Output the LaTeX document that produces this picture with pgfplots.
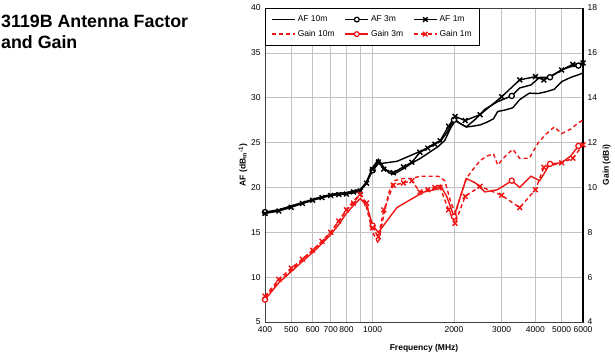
\documentclass[border=0pt]{standalone}
\usepackage{pgfplots}
\pgfplotsset{compat=1.18}
\usepackage{fontspec}
\setmainfont{Liberation Sans}
\definecolor{cred}{RGB}{240,20,20}
\definecolor{cgrid}{RGB}{195,195,195}

\begin{document}
\begin{tikzpicture}[x=1pt,y=1pt]
\path[use as bounding box] (0,0) rectangle (615,-354);
\node[anchor=base west,inner sep=0,font=\fontsize{17.8}{21}\selectfont\bfseries] at (1,-27) {3119B Antenna Factor};
\node[anchor=base west,inner sep=0,font=\fontsize{17.8}{21}\selectfont\bfseries] at (1,-48) {and Gain};

\begin{axis}[
  at={(265pt,-322pt)}, anchor=south west,
  scale only axis, width=318pt, height=314pt,
  xmode=log, xmin=400, xmax=6000, ymin=5, ymax=40,
  xtick={400,500,600,700,800,1000,2000,3000,4000,5000,6000},
  xticklabels={400,500,600,700,800,1000,2000,3000,4000,5000,6000},
  minor xtick={900},
  ytick={5,10,...,40},
  grid=both,
  major grid style={cgrid, line width=0.7pt},
  minor grid style={cgrid, line width=0.7pt},
  tick style={draw=none},
  axis line style={black!75, line width=0.7pt},
  ticklabel style={font=\fontsize{8.5}{10}\selectfont},
  /pgf/number format/assume math mode=true,
  xticklabel style={yshift=-1pt},
  yticklabel style={xshift=-1pt},
  xlabel={\bfseries Frequency (MHz)},
  xlabel style={at={(axis description cs:0.5,-0.083)}, anchor=center, font=\fontsize{8.5}{10}\selectfont},
  ylabel={\bfseries AF (dB\textsubscript{m}\textsuperscript{-1})},
  ylabel style={at={(axis description cs:-0.069,0.5)}, anchor=center, font=\fontsize{8.5}{10}\selectfont},
  clip=false,
]
% AF 10m
\addplot[black, line width=1.4pt] table {
400 17.15
450 17.47
500 17.89
550 18.22
600 18.57
650 18.87
700 19.11
750 19.21
800 19.27
850 19.40
900 19.60
950 20.66
1000 22.21
1050 23.13
1100 22.24
1150 21.62
1200 21.49
1300 22.09
1400 22.73
1500 23.23
1600 23.79
1750 24.57
1850 25.25
1950 26.71
2030 27.51
2100 27.15
2220 26.74
2350 26.83
2500 26.97
2650 27.28
2800 27.65
2900 28.46
3100 28.64
3300 28.88
3500 29.79
3800 30.51
4100 30.47
4400 30.68
4700 30.95
5000 31.79
5400 32.26
5800 32.58
6000 32.77
};
% AF 3m
\addplot[black, line width=1.4pt] table {
400 17.25
450 17.52
500 17.94
550 18.32
600 18.67
650 18.97
700 19.21
750 19.36
800 19.42
850 19.60
900 19.80
950 20.56
1000 21.91
1050 22.63
1230 22.91
1400 23.63
1550 24.22
1700 24.92
1780 25.12
1880 26.09
2000 27.53
2100 27.15
2220 26.74
2400 27.61
2600 28.71
2900 29.56
3270 30.20
3500 31.09
3850 31.42
4150 32.27
4530 32.28
5000 33.09
5400 33.46
5770 33.58
6000 33.87
};
\addplot[black, only marks, mark=*, mark size=2.6pt, mark options={line width=1.3pt, fill=white}] table {
400 17.25
1000 21.91
2000 27.53
3270 30.20
4530 32.28
5770 33.58
};
% AF 1m
\addplot[black, line width=1.4pt, mark=x, mark size=3.4pt] table {
400 17.10
450 17.37
500 17.79
550 18.22
600 18.57
650 18.87
700 19.11
750 19.21
800 19.27
850 19.50
900 19.60
950 20.46
1000 22.01
1050 22.83
1100 22.04
1193 21.64
1300 22.29
1397 22.81
1496 23.91
1600 24.39
1700 24.82
1777 25.20
1910 26.83
2018 27.91
2200 27.46
2496 28.11
3000 30.10
3500 31.99
4000 32.35
4300 31.98
5000 33.09
5500 33.72
6000 33.87
};
\end{axis}

\begin{axis}[
  at={(265pt,-322pt)}, anchor=south west,
  scale only axis, width=318pt, height=314pt,
  xmode=log, xmin=400, xmax=6000, ymin=4, ymax=18,
  axis x line=none,
  axis y line*=right,
  ytick={4,6,...,18},
  tick style={draw=none},
  axis line style={black, line width=1.6pt, -},
  ticklabel style={font=\fontsize{8.5}{10}\selectfont},
  /pgf/number format/assume math mode=true,
  yticklabel style={xshift=1pt},
  ylabel={\bfseries Gain (dBi)},
  ylabel style={at={(axis description cs:1.0745,0.5)}, anchor=center, font=\fontsize{8.5}{10}\selectfont},
  clip=false,
  legend columns=3,
  legend cell align=left,
  legend image code/.code={\draw[mark repeat=2,mark phase=2,#1] plot coordinates {(0pt,0pt) (11.5pt,0pt) (23pt,0pt)};},
  legend style={at={(axis description cs:0,1)}, anchor=north west, draw=black, line width=0.7pt, fill=white,
    font=\fontsize{8.5}{10}\selectfont, inner xsep=6pt, inner ysep=5.5pt, row sep=3pt,
    /tikz/every even column/.append style={column sep=8pt}},
]
\addlegendimage{black, line width=1.4pt}
\addlegendentry{AF 10m}
\addlegendimage{black, line width=1.4pt, mark=*, mark size=2.4pt, mark options={line width=1.2pt, fill=white}}
\addlegendentry{AF 3m}
\addlegendimage{black, line width=1.4pt, mark=x, mark size=3.2pt}
\addlegendentry{AF 1m}
\addlegendimage{cred, line width=1.4pt, dash pattern=on 4pt off 3pt}
\addlegendentry{Gain 10m}
\addlegendimage{cred, line width=1.4pt, mark=*, mark size=2.4pt, mark options={line width=1.2pt, fill=white}}
\addlegendentry{Gain 3m}
\addlegendimage{cred, line width=1.4pt, dash pattern=on 4pt off 3pt, mark=x, mark size=3.2pt, mark options={solid}}
\addlegendentry{Gain 1m}
% Gain 10m
\addplot[cred, line width=1.4pt, dash pattern=on 4pt off 3pt, forget plot] table {
400 5.10
450 5.80
500 6.30
550 6.80
600 7.20
650 7.60
700 8.00
750 8.50
800 9.00
850 9.40
900 9.70
950 9.10
1000 8.00
1050 7.50
1100 8.80
1150 9.80
1200 10.30
1300 10.40
1400 10.40
1500 10.50
1600 10.50
1750 10.50
1850 10.30
1950 9.30
2030 8.85
2100 9.50
2220 10.40
2350 10.80
2500 11.20
2650 11.40
2800 11.50
2900 11.00
3100 11.40
3300 11.70
3500 11.30
3800 11.30
4100 12.00
4400 12.40
4700 12.70
5000 12.40
5400 12.60
5800 12.90
6000 13.00
};
% Gain 3m
\addplot[cred, line width=1.4pt, forget plot] table {
400 5.00
450 5.75
500 6.25
550 6.70
600 7.10
650 7.50
700 7.90
750 8.35
800 8.85
850 9.20
900 9.50
950 9.20
1000 8.30
1050 8.00
1230 9.10
1400 9.50
1550 9.80
1700 9.90
1780 10.10
1880 9.60
2000 8.70
2100 9.50
2220 10.40
2400 10.20
2600 9.80
2900 9.90
3270 10.30
3500 10.00
3850 10.50
4150 10.30
4530 11.05
5000 11.10
5400 11.40
5770 11.85
6000 11.90
};
\addplot[cred, only marks, mark=*, mark size=2.6pt, mark options={line width=1.3pt, fill=white}, forget plot] table {
400 5.00
1000 8.30
2000 8.70
3270 10.30
4530 11.05
5770 11.85
};
% Gain 1m
\addplot[cred, line width=1.4pt, dash pattern=on 4pt off 3pt, mark=x, mark size=3.4pt, mark options={solid}, forget plot] table {
400 5.15
450 5.90
500 6.40
550 6.80
600 7.20
650 7.60
700 8.00
750 8.50
800 9.00
850 9.30
900 9.70
950 9.30
1000 8.20
1050 7.80
1100 9.00
1193 10.10
1300 10.20
1397 10.30
1496 9.80
1600 9.90
1700 10.00
1777 10.00
1910 9.00
2018 8.40
2200 9.60
2496 10.05
3000 9.65
3500 9.10
4000 9.90
4300 10.90
5000 11.10
5500 11.30
6000 11.90
};
\end{axis}
\end{tikzpicture}
\end{document}
